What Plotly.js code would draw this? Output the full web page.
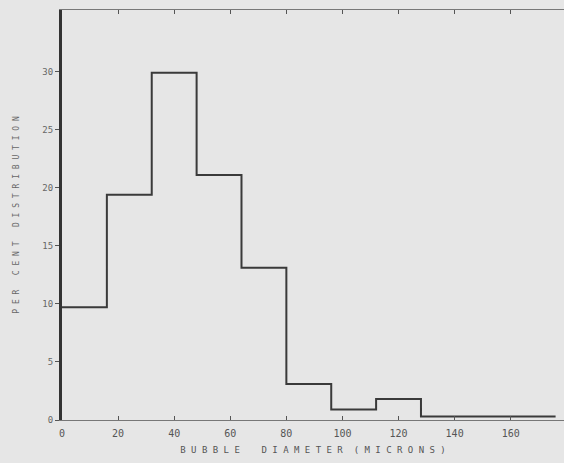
<!DOCTYPE html>
<html>
<head>
<meta charset="utf-8">
<script src="https://cdn.plot.ly/plotly-3.0.1.min.js"></script>
<style>
html,body{margin:0;padding:0;background:#e6e6e6;}
#chart{width:564px;height:463px;}
</style>
</head>
<body>
<div id="chart"></div>
<script>
// Bin edges (microns) and per cent distribution per bin
var binEdges = [0, 16, 32, 48, 64, 80, 96, 112, 128, 176];
var percentValues = [9.7, 19.4, 29.9, 21.1, 13.1, 3.1, 0.9, 1.8, 0.3];
var xTickVals = [0, 20, 40, 60, 80, 100, 120, 140, 160];
var yTickVals = [0, 5, 10, 15, 20, 25, 30];

// step line: each bin value starts at its left edge, last value repeated at the right edge
var stepY = percentValues.concat([percentValues[percentValues.length - 1]]);

var trace = {
  x: binEdges,
  y: stepY,
  type: 'scatter',
  mode: 'lines',
  line: {shape: 'hv', color: '#3a3a3a', width: 2},
  hoverinfo: 'x+y'
};

var layout = {
  width: 564,
  height: 463,
  paper_bgcolor: '#e6e6e6',
  plot_bgcolor: '#e6e6e6',
  showlegend: false,
  margin: {l: 62, r: 0, t: 10, b: 43},
  font: {family: 'DejaVu Sans Mono, monospace', color: '#555555', size: 10},
  xaxis: {
    range: [0, 179],
    tickvals: xTickVals,
    ticktext: xTickVals.map(String),
    ticks: 'inside',
    ticklen: 4,
    tickcolor: '#555',
    ticklabelstandoff: 4,
    showgrid: false,
    zeroline: false,
    showline: true,
    linecolor: '#777777',
    linewidth: 1,
    mirror: 'ticks',
    tickfont: {size: 10, color: '#555'},
    title: {text: 'B U B B L E    D I A M E T E R  ( M I C R O N S )', font: {size: 9, color: '#555'}, standoff: 8}
  },
  yaxis: {
    range: [0, 35.3],
    tickvals: yTickVals,
    ticktext: yTickVals.map(String),
    ticks: 'outside',
    ticklen: 4,
    tickcolor: '#555',
    showgrid: false,
    zeroline: false,
    showline: true,
    linecolor: '#333333',
    linewidth: 3,
    tickfont: {size: 9, color: '#666'},
    title: {text: 'P E R   C E N T   D I S T R I B U T I O N', font: {size: 8, color: '#666'}, standoff: 22}
  }
};

Plotly.newPlot('chart', [trace], layout, {displayModeBar: false, staticPlot: true});
</script>
</body>
</html>
